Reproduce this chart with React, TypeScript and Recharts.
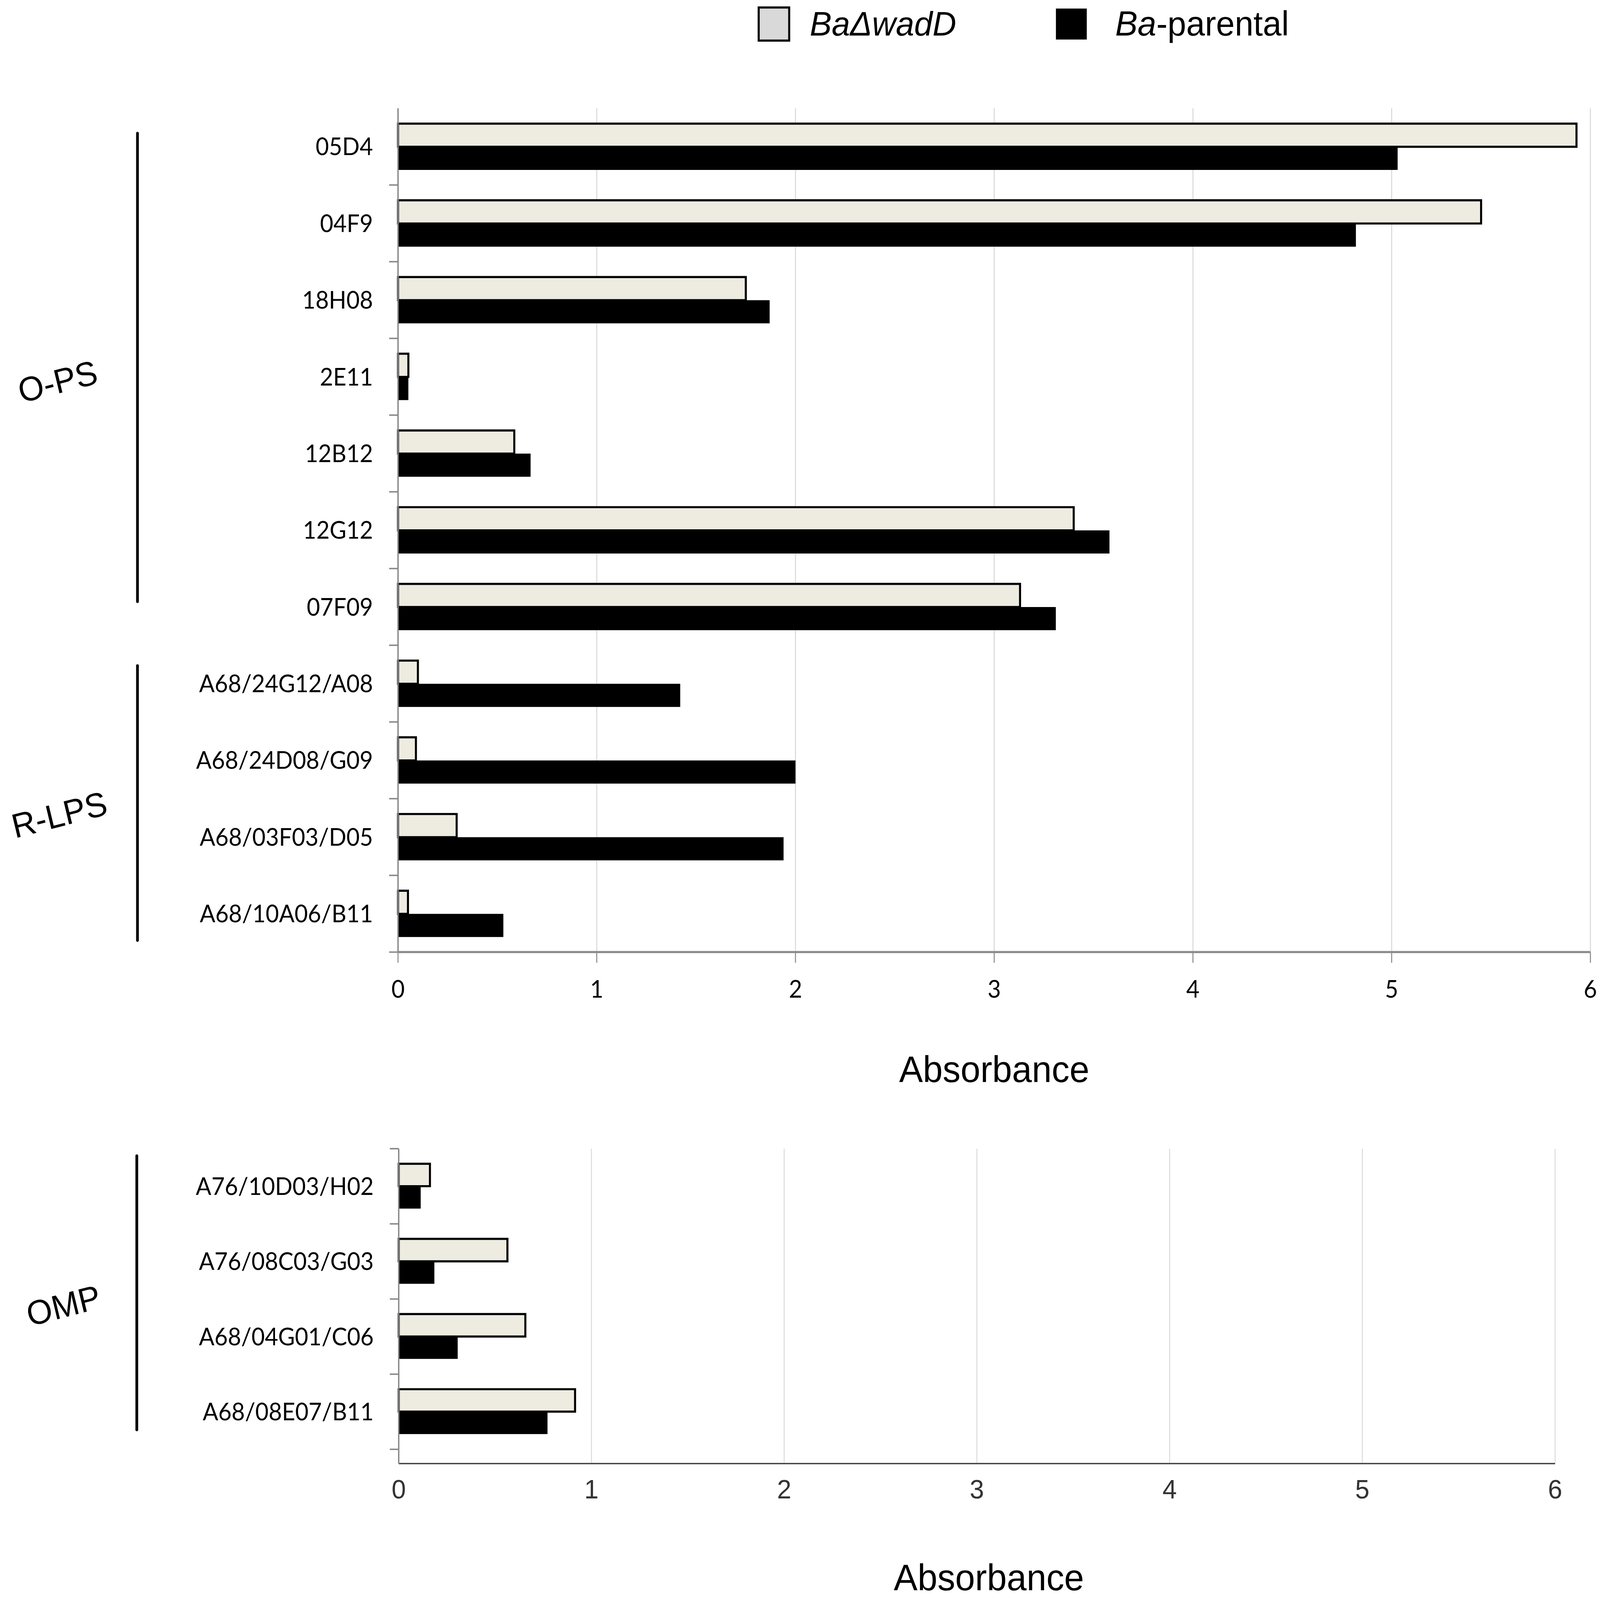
import { Bar, BarChart, CartesianGrid, Legend, XAxis, YAxis } from "recharts"

const lpsClones = [
  "05D4",
  "04F9",
  "18H08",
  "2E11",
  "12B12",
  "12G12",
  "07F09",
  "A68/24G12/A08",
  "A68/24D08/G09",
  "A68/03F03/D05",
  "A68/10A06/B11",
]
const lpsMutant = [5.93, 5.45, 1.75, 0.052, 0.585, 3.4, 3.13, 0.1, 0.09, 0.295, 0.05]
const lpsParental = [5.03, 4.82, 1.87, 0.052, 0.667, 3.58, 3.31, 1.42, 2.0, 1.94, 0.53]

const ompClones = ["A76/10D03/H02", "A76/08C03/G03", "A68/04G01/C06", "A68/08E07/B11"]
const ompMutant = [0.162, 0.564, 0.657, 0.915]
const ompParental = [0.114, 0.185, 0.306, 0.772]

const absorbanceTicks = [0, 1, 2, 3, 4, 5, 6]
const seriesNames = ["BaΔwadD", "Ba-parental"]
const groupNames = ["O-PS", "R-LPS", "OMP"]

const lpsData = lpsClones.map((clone, i) => ({ clone, mutant: lpsMutant[i], parental: lpsParental[i] }))
const ompData = ompClones.map((clone, i) => ({ clone, mutant: ompMutant[i], parental: ompParental[i] }))

const W = 4667
const H = 4492
const LIGHT = "#EEECE1"
const ARIAL = "'Liberation Sans', Arial, sans-serif"
const CALIBRI = "Lato, 'Open Sans', sans-serif"

// category tick: label at band centre, small tick marks on band boundaries
function makeCategoryTick(band: number, count: number, withTop: boolean) {
  return (props: any) => {
    const { x, y, index, payload } = props
    const marks: number[] = []
    if (index > 0 || withTop) marks.push(y - band / 2)
    if (index === count - 1) marks.push(y + band / 2)
    return (
      <g>
        {marks.map((m) => (
          <line key={m} x1={x - 26} x2={x} y1={m} y2={m} stroke="#888" strokeWidth={4} />
        ))}
        <text x={x - 73} y={y} dy="0.36em" textAnchor="end" fontFamily={CALIBRI} fontSize={67} fill="#000">
          {payload.value}
        </text>
      </g>
    )
  }
}

function LegendContent() {
  return (
    <svg width={W} height={140} style={{ display: "block" }}>
      <rect x={2213} y={21} width={89} height={93} fill="#D9D9D9" stroke="#000" strokeWidth={6} />
      <text x={2362} y={100} fontFamily={ARIAL} fontSize={96} fontStyle="italic" fill="#000">
        {seriesNames[0]}
      </text>
      <rect x={3080} y={24} width={90} height={87} fill="#000" />
      <text x={3253} y={100} fontFamily={ARIAL} fontSize={98} fill="#000">
        <tspan fontStyle="italic">{seriesNames[1].slice(0, 2)}</tspan>
        {seriesNames[1].slice(2)}
      </text>
    </svg>
  )
}

function Groups() {
  const labels = [
    { x: 168, y: 1071 },
    { x: 173, y: 2287 },
    { x: 185, y: 3665 },
  ]
  const bars = [
    { x: 401, y1: 374, y2: 1689 },
    { x: 401, y1: 1869, y2: 2640 },
    { x: 399, y1: 3245, y2: 4014 },
  ]
  return (
    <svg width={W} height={H} style={{ position: "absolute", left: 0, top: 0, pointerEvents: "none" }}>
      {groupNames.map((g, i) => (
        <text
          key={g}
          x={labels[i].x}
          y={labels[i].y}
          textAnchor="middle"
          dominantBaseline="central"
          fontFamily={ARIAL}
          fontSize={96}
          fill="#000"
          transform={`rotate(-14 ${labels[i].x} ${labels[i].y})`}
        >
          {g}
        </text>
      ))}
      {bars.map((b) => (
        <line key={b.y1} x1={b.x} x2={b.x} y1={b.y1} y2={b.y2} stroke="#000" strokeWidth={8} strokeLinecap="round" />
      ))}
    </svg>
  )
}

export default function App() {
  const topBand = (2673 - 304) / lpsClones.length
  const bottomBand = (4109 - 3225 - 40) / ompClones.length
  // the browser may give a smaller viewport than asked for: fit the figure into it
  const sx = Math.min(1, window.innerWidth / W)
  const sy = Math.min(1, window.innerHeight / H)

  return (
    <div
      style={{
        position: "absolute",
        left: 0,
        top: 0,
        width: W,
        height: H,
        background: "#fff",
        transformOrigin: "0 0",
        transform: `scale(${sx}, ${sy})`,
      }}
    >
      <div style={{ position: "absolute", left: 0, top: 0 }}>
        <BarChart
          layout="vertical"
          width={W}
          height={3100}
          data={lpsData}
          margin={{ top: 304, right: 28, bottom: 57, left: 0 }}
          barCategoryGap="20%"
          barGap={0}
        >
          <CartesianGrid horizontal={false} stroke="#D9D9D9" strokeWidth={3} />
          <XAxis
            type="number"
            domain={[0, 6]}
            ticks={absorbanceTicks}
            height={370}
            tickSize={30}
            tickMargin={50}
            axisLine={{ stroke: "#8C8C8C", strokeWidth: 6 }}
            tickLine={{ stroke: "#8C8C8C", strokeWidth: 3 }}
            tick={{ fontFamily: CALIBRI, fontSize: 67, fill: "#000" }}
            label={{ value: "Absorbance", position: "insideBottom", offset: 5, fontFamily: ARIAL, fontSize: 104, fill: "#000" }}
          />
          <YAxis
            type="category"
            dataKey="clone"
            width={1161}
            interval={0}
            tickLine={false}
            tickSize={0}
            tickMargin={0}
            axisLine={{ stroke: "#888", strokeWidth: 4 }}
            tick={makeCategoryTick(topBand, lpsClones.length, false)}
          />
          <Legend
            verticalAlign="middle"
            align="center"
            layout="horizontal"
            wrapperStyle={{ top: 0, left: 0, width: W, height: 140 }}
            content={LegendContent}
          />
          <Bar dataKey="mutant" name={seriesNames[0]} fill={LIGHT} stroke="#000" strokeWidth={6} isAnimationActive={false} />
          <Bar dataKey="parental" name={seriesNames[1]} fill="#000" isAnimationActive={false} />
        </BarChart>
      </div>
      <div style={{ position: "absolute", left: 0, top: 3100 }}>
        <BarChart
          layout="vertical"
          width={W}
          height={1392}
          data={ompData}
          margin={{ top: 125, right: 131, bottom: 22, left: 0 }}
          barCategoryGap="20%"
          barGap={0}
        >
          <CartesianGrid horizontal={false} stroke="#DDDDDD" strokeWidth={3} />
          <XAxis
            type="number"
            domain={[0, 6]}
            ticks={absorbanceTicks}
            height={361}
            tickLine={false}
            tickSize={0}
            tickMargin={45}
            axisLine={{ stroke: "#444", strokeWidth: 4 }}
            tick={{ fontFamily: ARIAL, fontSize: 75, fill: "#333" }}
            label={{
              value: "Absorbance",
              position: "insideBottom",
              offset: 5,
              dx: 35,
              fontFamily: ARIAL,
              fontSize: 104,
              fill: "#000",
            }}
          />
          <YAxis
            type="category"
            dataKey="clone"
            width={1163}
            interval={0}
            tickLine={false}
            tickSize={0}
            tickMargin={0}
            padding={{ top: 0, bottom: 40 }}
            axisLine={{ stroke: "#888", strokeWidth: 4 }}
            tick={makeCategoryTick(bottomBand, ompClones.length, true)}
          />
          <Bar dataKey="mutant" name={seriesNames[0]} fill={LIGHT} stroke="#000" strokeWidth={6} isAnimationActive={false} />
          <Bar dataKey="parental" name={seriesNames[1]} fill="#000" isAnimationActive={false} />
        </BarChart>
      </div>
      <Groups />
    </div>
  )
}
